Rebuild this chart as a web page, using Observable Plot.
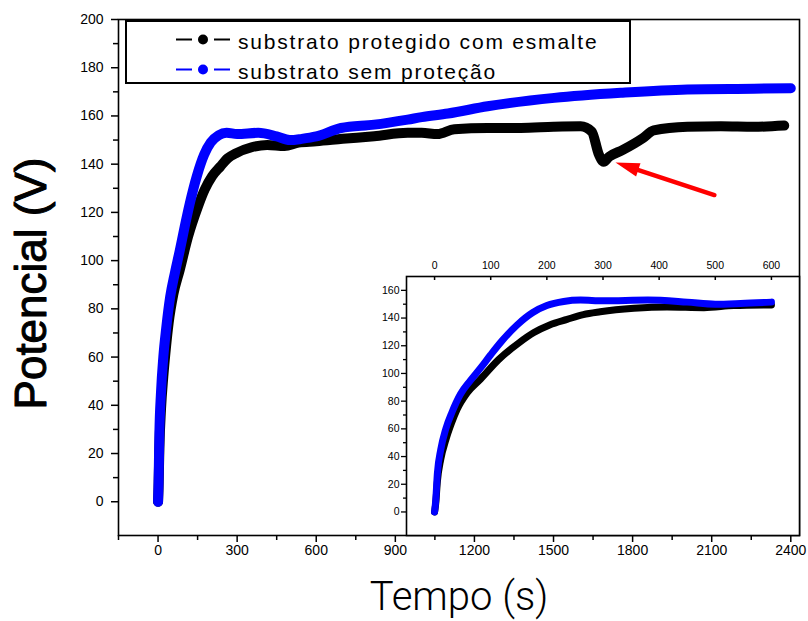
<!DOCTYPE html>
<html><head><meta charset="utf-8">
<script src="https://cdn.jsdelivr.net/npm/d3@7"></script>
<script src="https://cdn.jsdelivr.net/npm/@observablehq/plot@0.6"></script>
<style>
body{margin:0;background:#fff;}
#wrap{position:relative;width:808px;height:621px;background:#fff;font-family:"Liberation Sans",Arial,sans-serif;}
#wrap svg{position:absolute;overflow:visible;}
</style></head><body><div id="wrap"></div>
<script>
// ---- data ----
const seriesNames = ["substrato protegido com esmalte", "substrato sem proteção"];
const seriesColors = ["#000000", "#0000ff"];

const tBlack = [0, 2, 5, 11, 20, 30, 40, 58, 82, 114, 150, 177, 205, 236, 265, 295, 355, 414, 480, 533, 600, 700, 820, 947, 1000, 1060, 1124, 1250, 1376, 1500, 1603, 1645, 1672, 1690, 1710, 1763, 1839, 1880, 2008, 2135, 2260, 2375];
const vBlack = [0, 6, 22, 38, 52, 64, 74, 86, 96, 110, 122, 129.5, 135, 139, 142.5, 144.5, 147, 148, 147.5, 149, 149.5, 150.5, 151.6, 153, 153, 152.5, 154.5, 155, 155, 155.5, 155.7, 153.5, 144, 141, 143, 145.9, 150.8, 154, 155.5, 155.7, 155.5, 156];

const tBlue = [0, 2, 5, 11, 20, 31, 46, 64, 82, 100, 120, 147, 175, 200, 230, 260, 300, 380, 450, 500, 545, 600, 694, 820, 947, 1000, 1100, 1250, 1503, 1755, 2008, 2261, 2400];
const vBlue = [0, 8, 28, 45, 60, 72, 85, 95, 104, 113.5, 123.5, 135, 144, 149, 152, 153, 152.5, 153, 151.5, 150, 150.5, 151.5, 155, 156.4, 158.5, 159.5, 161, 164, 167.5, 169.6, 171, 171.3, 171.5];

const xTicks = [0, 300, 600, 900, 1200, 1500, 1800, 2100, 2400];
const xMinor = [-150, 150, 450, 750, 1050, 1350, 1650, 1950, 2250];
const yTicks = [0, 20, 40, 60, 80, 100, 120, 140, 160, 180, 200];
const yMinor = [10, 30, 50, 70, 90, 110, 130, 150, 170, 190];

const insetXTicks = [0, 100, 200, 300, 400, 500, 600];
const insetYTicks = [0, 20, 40, 60, 80, 100, 120, 140, 160];
const insetYMinor = [10, 30, 50, 70, 90, 110, 130, 150];

// annotation arrow (tail -> tip), in data units
const arrowTail = {t: 2112, v: 127};
const arrowTip = {t: 1737, v: 140.5};

const xLabel = "Tempo (s)";
const yLabel = "Potencial (V)";

// ---- build rows ----
const black = tBlack.map((t, i) => ({t, v: vBlack[i]}));
const blue = tBlue.map((t, i) => ({t, v: vBlue[i]}));

const font = '"Liberation Sans", Arial, sans-serif';
const wrap = document.getElementById("wrap");
const fmt = d => String(d);

// red arrow with a filled wedge head, positioned through the plot's scales
function redArrow(index, scales) {
  const x1 = scales.x(arrowTail.t), y1 = scales.y(arrowTail.v);
  const x2 = scales.x(arrowTip.t), y2 = scales.y(arrowTip.v);
  const dx = x2 - x1, dy = y2 - y1, len = Math.hypot(dx, dy);
  const ux = dx / len, uy = dy / len, nx = -uy, ny = ux;
  const L = 24, W = 7;
  const bx = x2 - ux * L, by = y2 - uy * L;
  const g = d3.create("svg:g");
  g.append("line").attr("x1", x1).attr("y1", y1).attr("x2", bx + ux * 3).attr("y2", by + uy * 3)
    .attr("stroke", "#ff0000").attr("stroke-width", 4.5).attr("stroke-linecap", "round");
  g.append("path").attr("d", `M${x2},${y2}L${bx + nx * W},${by + ny * W}L${bx - nx * W},${by - ny * W}Z`)
    .attr("fill", "#ff0000");
  return g.node();
}

const main = Plot.plot({
  width: 808, height: 621,
  marginLeft: 118, marginTop: 19, marginRight: 9, marginBottom: 86,
  style: {fontFamily: font, fontSize: "14px", color: "#000", background: "transparent"},
  x: {domain: [-150, 2433]},
  y: {domain: [-14, 200]},
  marks: [
    Plot.frame({stroke: "#000", strokeWidth: 1.6}),
    Plot.axisX({ticks: xMinor, tickSize: 5, tickFormat: () => "", label: null, strokeWidth: 1.5}),
    Plot.axisX({ticks: xTicks, tickSize: 7, tickPadding: 3, tickFormat: fmt, label: null, strokeWidth: 1.5, fontSize: 14}),
    Plot.axisY({ticks: yMinor, tickSize: 5, tickFormat: () => "", label: null, strokeWidth: 1.5}),
    Plot.axisY({ticks: yTicks, tickSize: 7, tickPadding: 8, tickFormat: fmt, label: null, strokeWidth: 1.5, fontSize: 14}),
    Plot.line(black, {x: "t", y: "v", stroke: seriesColors[0], strokeWidth: 10, curve: "monotone-x", strokeLinejoin: "round", strokeLinecap: "round"}),
    Plot.line(blue, {x: "t", y: "v", stroke: seriesColors[1], strokeWidth: 10, curve: "monotone-x", strokeLinejoin: "round", strokeLinecap: "round"}),
    redArrow,
    Plot.text([yLabel], {text: d => d, frameAnchor: "left", textAnchor: "middle", lineAnchor: "middle", rotate: -90, dx: -87, dy: 6,
      fontSize: 44, fontFamily: font, stroke: "#000", strokeWidth: 1, fill: "#000"}),
    Plot.text([xLabel], {text: d => d, frameAnchor: "bottom", textAnchor: "middle", lineAnchor: "middle", dy: 62, fontSize: 40, fontWeight: 300,
      fontFamily: "Roboto, 'DejaVu Sans', sans-serif"})
  ]
});
main.style.left = "0px"; main.style.top = "0px";
wrap.appendChild(main);

const inset = Plot.plot({
  width: 437, height: 294,
  marginLeft: 35, marginTop: 30, marginRight: 9, marginBottom: 5,
  style: {fontFamily: font, fontSize: "10.5px", color: "#000", background: "transparent"},
  x: {domain: [-50, 650]},
  y: {domain: [-17, 170]},
  marks: [
    Plot.frame({fill: "#fff", stroke: "#000", strokeWidth: 1.6}),
    Plot.axisX({anchor: "top", ticks: insetXTicks, tickSize: 0, tickPadding: 8, tickFormat: fmt, label: null, fontSize: 10.5}),
    Plot.ruleX(insetXTicks, {insetBottom: 255, strokeWidth: 1.5}),
    Plot.axisY({ticks: insetYMinor, tickSize: 3, tickFormat: () => "", label: null, strokeWidth: 1.3}),
    Plot.axisY({ticks: insetYTicks, tickSize: 5, tickPadding: 2, tickFormat: fmt, label: null, strokeWidth: 1.3, fontSize: 10.5}),
    Plot.line(black.filter(d => d.t <= 600), {x: "t", y: "v", stroke: seriesColors[0], strokeWidth: 7, curve: "monotone-x", strokeLinejoin: "round", strokeLinecap: "round"}),
    Plot.line(blue.filter(d => d.t <= 600), {x: "t", y: "v", stroke: seriesColors[1], strokeWidth: 7, curve: "monotone-x", strokeLinejoin: "round", strokeLinecap: "round"})
  ]
});
inset.style.left = "371px"; inset.style.top = "246px";
wrap.appendChild(inset);

// legend box
const leg = d3.create("svg").attr("width", 808).attr("height", 100)
  .style("left", "0px").style("top", "0px");
leg.append("rect").attr("x", 126).attr("y", 21).attr("width", 504).attr("height", 62)
  .attr("fill", "#fff").attr("stroke", "#000").attr("stroke-width", 2);
seriesNames.forEach((name, i) => {
  const cy = 39.5 + i * 30;
  const g = leg.append("g");
  g.append("line").attr("x1", 176).attr("x2", 192).attr("y1", cy).attr("y2", cy).attr("stroke", seriesColors[i]).attr("stroke-width", 2);
  g.append("line").attr("x1", 214).attr("x2", 230).attr("y1", cy).attr("y2", cy).attr("stroke", seriesColors[i]).attr("stroke-width", 2);
  g.append("circle").attr("cx", 203).attr("cy", cy).attr("r", 5).attr("fill", seriesColors[i]);
  g.append("text").attr("x", 238).attr("y", cy + 9.5).text(name)
    .attr("font-family", font).attr("font-size", 21).attr("letter-spacing", "1.8px").attr("fill", "#000");
});
wrap.appendChild(leg.node());
</script></body></html>
